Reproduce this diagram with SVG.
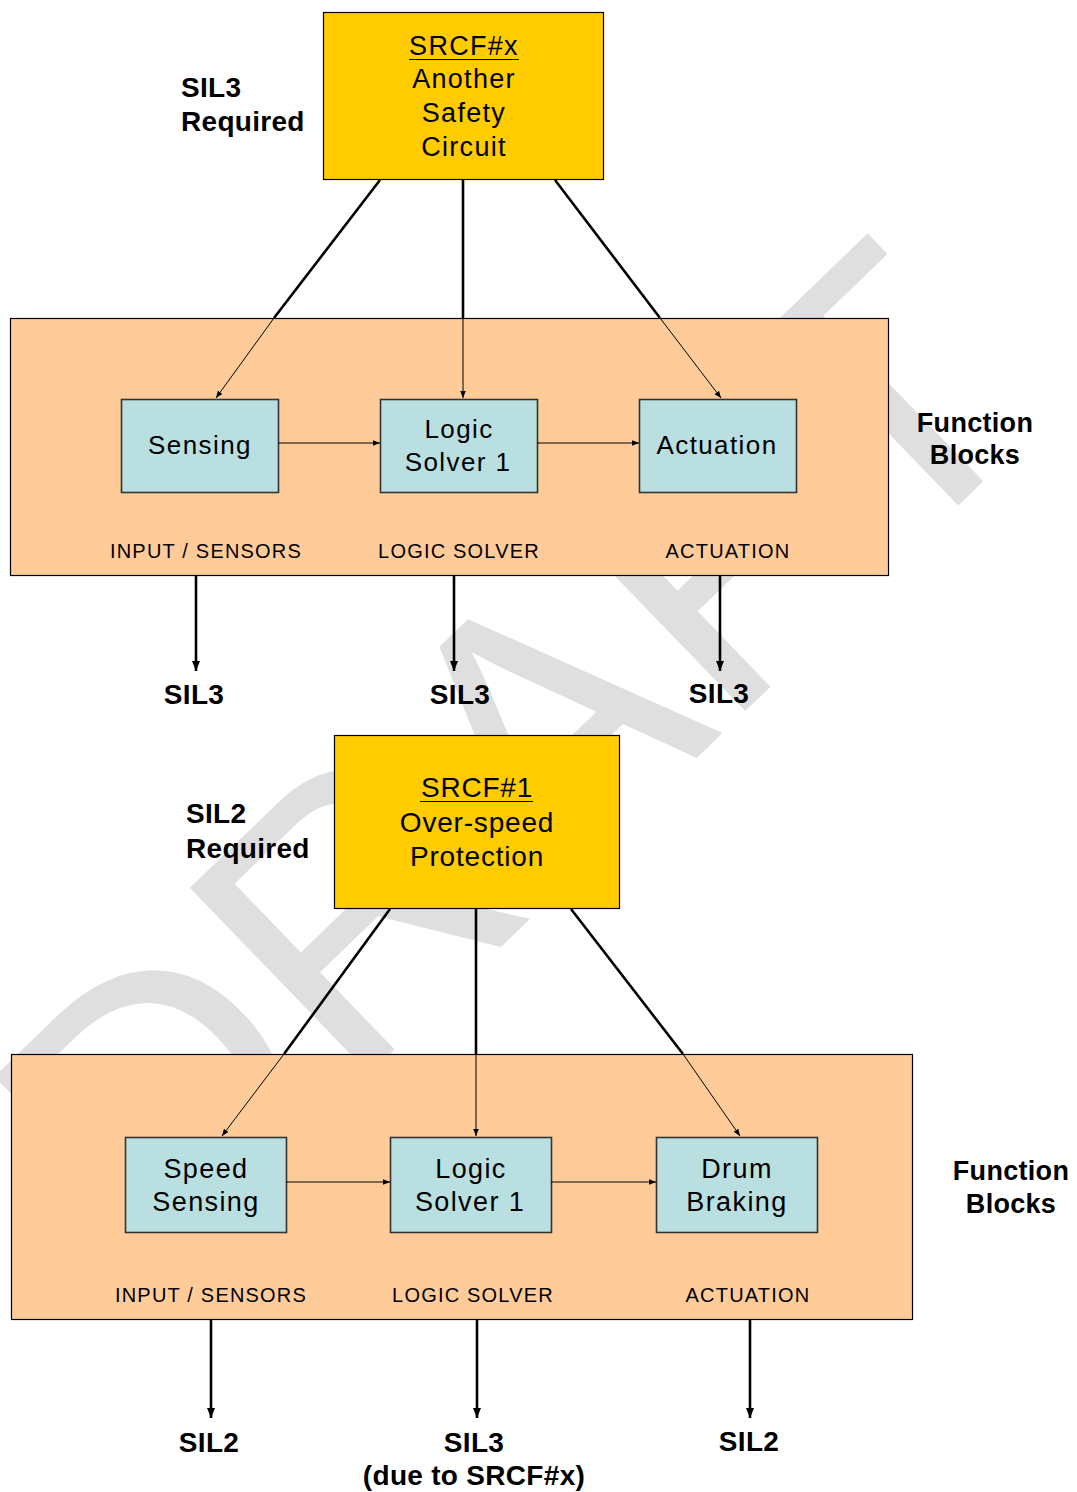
<svg xmlns="http://www.w3.org/2000/svg" width="1077" height="1492" viewBox="0 0 1077 1492">
  <defs>
    <marker id="headThin" viewBox="0 0 10 10" refX="10" refY="5" markerWidth="7" markerHeight="7" markerUnits="userSpaceOnUse" orient="auto">
      <path d="M0,1 L10,5 L0,9 Z" fill="#000"/>
    </marker>
    <marker id="headThick" viewBox="0 0 10 10" refX="10" refY="5" markerWidth="10" markerHeight="10" markerUnits="userSpaceOnUse" orient="auto">
      <path d="M0,1 L10,5 L0,9 Z" fill="#000"/>
    </marker>
    <style>
      text { font-family: "Liberation Sans", Arial, sans-serif; fill: #000; }
      .mark { font-size: 376px; fill: #dfdfdf; }
      .srcf { fill: #FFCC00; stroke: #000; stroke-width: 1.2; }
      .group { fill: #FFCC99; stroke: #000; stroke-width: 1.2; }
      .blk { fill: #B9DFE1; stroke: #333; stroke-width: 1.6; }
      .big { font-size: 27px; letter-spacing: 1.3px; text-anchor: middle; }
      .fb { font-size: 26px; letter-spacing: 1.4px; text-anchor: middle; }
      .cat { font-size: 20px; letter-spacing: 1.2px; text-anchor: middle; }
      .bold { font-size: 28px; font-weight: bold; letter-spacing: 0.3px; }
      .bc { text-anchor: middle; }
      .thick { stroke: #000; stroke-width: 2.6; fill: none; }
      .thin { stroke: #000; stroke-width: 1; fill: none; }
    </style>
  </defs>

  <rect width="1077" height="1492" fill="#fff"/>

  <!-- diagonal watermark -->
  <text class="mark" transform="translate(152,1284) rotate(-44)">DRAFT</text>

  <!-- upper safety function -->
  <g id="srcf-x">
    <rect class="srcf" x="323.5" y="12.5" width="280" height="167"/>
    <text class="big" x="464" y="55">SRCF#x</text>
    <line x1="409" y1="59.5" x2="519" y2="59.5" stroke="#000" stroke-width="1.2"/>
    <text class="big" x="464" y="88">Another</text>
    <text class="big" x="464" y="122">Safety</text>
    <text class="big" x="464" y="156">Circuit</text>
  </g>
  <g id="sil3-required">
    <text class="bold" x="181" y="97">SIL3</text>
    <text class="bold" x="181" y="131">Required</text>
  </g>

  <g id="blocks-upper">
    <rect class="group" x="10.5" y="318.5" width="878" height="257"/>
    <text class="cat" x="206" y="558">INPUT / SENSORS</text>
    <text class="cat" x="459" y="558">LOGIC SOLVER</text>
    <text class="cat" x="728" y="558">ACTUATION</text>
  </g>
  <g id="sensing">
    <rect class="blk" x="121.5" y="399.5" width="157" height="93"/>
    <text class="fb" x="200" y="454">Sensing</text>
  </g>
  <g id="logic-solver-upper">
    <rect class="blk" x="380.5" y="399.5" width="157" height="93"/>
    <text class="fb" x="459" y="438">Logic</text>
    <text class="fb" x="458" y="471">Solver 1</text>
  </g>
  <g id="actuation">
    <rect class="blk" x="639.5" y="399.5" width="157" height="93"/>
    <text class="fb" x="717" y="454">Actuation</text>
  </g>
  <g id="function-blocks-upper">
    <text class="bold bc" x="975" y="432" style="font-size:27px">Function</text>
    <text class="bold bc" x="975" y="464" style="font-size:27px">Blocks</text>
  </g>
  <g id="sil-upper">
    <text class="bold bc" x="194" y="704">SIL3</text>
    <text class="bold bc" x="460" y="704">SIL3</text>
    <text class="bold bc" x="719" y="703">SIL3</text>
  </g>

  <!-- lower safety function -->
  <g id="srcf-1">
    <rect class="srcf" x="334.5" y="735.5" width="285" height="173"/>
    <text class="big" x="477" y="797" style="font-size:28px;letter-spacing:0.8px">SRCF#1</text>
    <line x1="420" y1="801.5" x2="533" y2="801.5" stroke="#000" stroke-width="1.2"/>
    <text class="big" x="477" y="832" style="font-size:28px;letter-spacing:0.8px">Over-speed</text>
    <text class="big" x="477" y="866" style="font-size:28px;letter-spacing:0.8px">Protection</text>
  </g>
  <g id="sil2-required">
    <text class="bold" x="186" y="823">SIL2</text>
    <text class="bold" x="186" y="858">Required</text>
  </g>

  <g id="blocks-lower">
    <rect class="group" x="11.5" y="1054.5" width="901" height="265"/>
    <text class="cat" x="211" y="1302">INPUT / SENSORS</text>
    <text class="cat" x="473" y="1302">LOGIC SOLVER</text>
    <text class="cat" x="748" y="1302">ACTUATION</text>
  </g>
  <g id="speed-sensing">
    <rect class="blk" x="125.5" y="1137.5" width="161" height="95"/>
    <text class="fb" x="206" y="1178" style="font-size:27px">Speed</text>
    <text class="fb" x="206" y="1211" style="font-size:27px">Sensing</text>
  </g>
  <g id="logic-solver-lower">
    <rect class="blk" x="390.5" y="1137.5" width="161" height="95"/>
    <text class="fb" x="471" y="1178" style="font-size:27px">Logic</text>
    <text class="fb" x="470" y="1211" style="font-size:27px">Solver 1</text>
  </g>
  <g id="drum-braking">
    <rect class="blk" x="656.5" y="1137.5" width="161" height="95"/>
    <text class="fb" x="737" y="1178" style="font-size:27px">Drum</text>
    <text class="fb" x="737" y="1211" style="font-size:27px">Braking</text>
  </g>
  <g id="function-blocks-lower">
    <text class="bold bc" x="1011" y="1180" style="font-size:27px">Function</text>
    <text class="bold bc" x="1011" y="1213" style="font-size:27px">Blocks</text>
  </g>
  <g id="sil-lower">
    <text class="bold bc" x="209" y="1452">SIL2</text>
    <text class="bold bc" x="474" y="1452">SIL3</text>
    <text class="bold bc" x="474" y="1485">(due to SRCF#x)</text>
    <text class="bold bc" x="749" y="1451">SIL2</text>
  </g>

  <g id="connectors">
    <!-- upper: SRCF#x to function blocks -->
    <line class="thick" x1="380" y1="180" x2="274" y2="318"/>
    <line class="thin" x1="274" y1="318" x2="216" y2="398" marker-end="url(#headThin)"/>
    <line class="thick" x1="463" y1="180" x2="463" y2="318"/>
    <line class="thin" x1="463" y1="318" x2="463" y2="398" marker-end="url(#headThin)"/>
    <line class="thick" x1="555" y1="180" x2="660" y2="318"/>
    <line class="thin" x1="660" y1="318" x2="721" y2="398" marker-end="url(#headThin)"/>
    <line class="thin" x1="278" y1="443" x2="380" y2="443" marker-end="url(#headThin)"/>
    <line class="thin" x1="537" y1="443" x2="639" y2="443" marker-end="url(#headThin)"/>
    <line class="thick" x1="196" y1="576" x2="196" y2="671" marker-end="url(#headThick)"/>
    <line class="thick" x1="454" y1="576" x2="454" y2="671" marker-end="url(#headThick)"/>
    <line class="thick" x1="720" y1="576" x2="720" y2="671" marker-end="url(#headThick)"/>
    <!-- lower: SRCF#1 to function blocks -->
    <line class="thick" x1="390" y1="909" x2="284" y2="1054"/>
    <line class="thin" x1="284" y1="1054" x2="222" y2="1136" marker-end="url(#headThin)"/>
    <line class="thick" x1="476" y1="909" x2="476" y2="1054"/>
    <line class="thin" x1="476" y1="1054" x2="476" y2="1136" marker-end="url(#headThin)"/>
    <line class="thick" x1="571" y1="909" x2="683" y2="1054"/>
    <line class="thin" x1="683" y1="1054" x2="740" y2="1136" marker-end="url(#headThin)"/>
    <line class="thin" x1="286" y1="1182" x2="390" y2="1182" marker-end="url(#headThin)"/>
    <line class="thin" x1="551" y1="1182" x2="656" y2="1182" marker-end="url(#headThin)"/>
    <line class="thick" x1="211" y1="1320" x2="211" y2="1418" marker-end="url(#headThick)"/>
    <line class="thick" x1="477" y1="1320" x2="477" y2="1418" marker-end="url(#headThick)"/>
    <line class="thick" x1="750" y1="1320" x2="750" y2="1418" marker-end="url(#headThick)"/>
  </g>
</svg>
